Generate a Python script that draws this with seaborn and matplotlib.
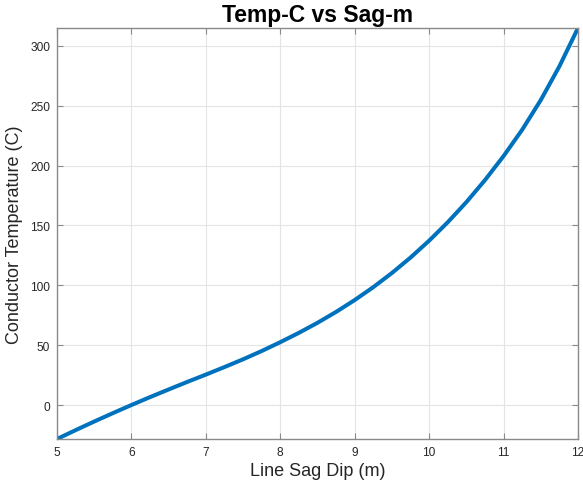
import matplotlib
matplotlib.use("Agg")
import matplotlib.pyplot as plt
import seaborn as sns
import pandas as pd

sag_m = [5.0, 5.25, 5.5, 5.75, 6.0, 6.25, 6.5, 6.75, 7.0, 7.25, 7.5, 7.75,
         8.0, 8.25, 8.5, 8.75, 9.0, 9.25, 9.5, 9.75, 10.0, 10.25, 10.5,
         10.75, 11.0, 11.25, 11.5, 11.75, 12.0]
temp_c = [-28.4, -21.0, -13.8, -6.8, 0.0, 6.6, 13.0, 19.3, 25.4, 31.7, 38.2,
          45.1, 52.5, 60.3, 68.7, 77.8, 87.7, 98.5, 110.3, 123.2, 137.3,
          152.7, 169.5, 187.9, 208.0, 230.0, 254.8, 283.0, 315.0]
x_ticks = [5, 6, 7, 8, 9, 10, 11, 12]
y_ticks = [0, 50, 100, 150, 200, 250, 300]

df = pd.DataFrame({"sag": sag_m, "temp": temp_c})

sns.set_theme(style="white")
plt.rcParams["font.family"] = ["Liberation Sans", "DejaVu Sans"]

fig = plt.figure(figsize=(5.83, 4.89), dpi=100)
ax = fig.add_axes([57 / 583, 49 / 489, 521 / 583, 411 / 489])

sns.lineplot(data=df, x="sag", y="temp", ax=ax, color="#0072BD",
             linewidth=2.9, solid_capstyle="round", solid_joinstyle="round")

ax.set_xlim(5, 12)
ax.set_ylim(-28.4, 315)
ax.set_xticks(x_ticks)
ax.set_yticks(y_ticks)
ax.grid(True, color="#e4e4e4", linewidth=0.8)
ax.set_axisbelow(True)
for s in ax.spines.values():
    s.set_color("#8a8a8a")
    s.set_linewidth(1.0)
ax.tick_params(direction="in", length=4, width=0.8, color="#8a8a8a",
               labelsize=8.6, labelcolor="#262626", top=True, right=True,
               left=True, bottom=True, pad=5)

ax.set_xlabel("Line Sag Dip (m)", fontsize=13, color="#262626", labelpad=3)
ax.set_ylabel("Conductor Temperature (C)", fontsize=13, color="#262626", labelpad=5)
ax.set_title("Temp-C vs Sag-m", fontsize=16.5, fontweight="bold", color="black", pad=5)

fig.savefig("out.png", dpi=100)
